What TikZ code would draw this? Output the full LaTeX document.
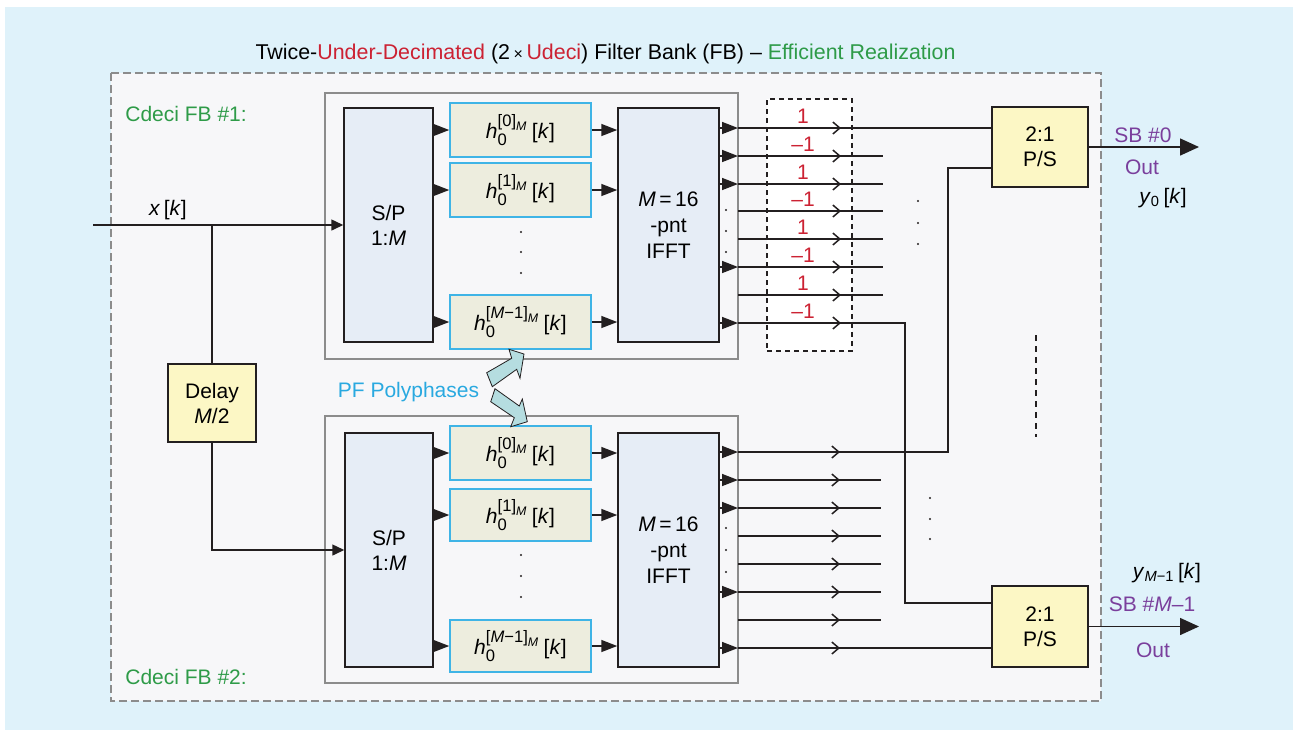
\documentclass[tikz,border=0pt]{standalone}
\usepackage{fontspec}
\setmainfont{Liberation Sans}
\usetikzlibrary{arrows.meta,fit}
\definecolor{bgblue}{HTML}{DFF2FA}
\definecolor{panel}{HTML}{F7F7F9}
\definecolor{spfill}{HTML}{E6EDF6}
\definecolor{hfill}{HTML}{EDEDDE}
\definecolor{hborder}{HTML}{3FB4E6}
\definecolor{psfill}{HTML}{FCF7C5}
\definecolor{myred}{HTML}{CC2233}
\definecolor{mygreen}{HTML}{2E9B48}
\definecolor{mypurple}{HTML}{7A3F9C}
\definecolor{mycyan}{HTML}{29A9E0}
\definecolor{fatarrow}{HTML}{B5DDE0}
\definecolor{lineblk}{HTML}{231F20}
\definecolor{fbgray}{HTML}{8C8C8C}
\newcommand{\hpoly}[1]{\textit{h}$^{\mbox{\fontsize{8.3}{9}\selectfont[#1]}_{\mbox{\fontsize{6.2}{7}\selectfont\itshape M}}}_{\mbox{\fontsize{8.3}{9}\selectfont 0}}$\,[\textit{k}]}
\tikzset{
  BTip/.tip={Triangle[length=8pt,width=6pt]},
  ITip/.tip={Triangle[length=6pt,width=5.5pt]},
  OTip/.tip={Triangle[length=9.5pt,width=8.5pt]},
  Barb/.tip={Straight Barb[length=3.5pt,width=6pt]},
  wire/.style={draw=lineblk, line width=0.75pt},
  fbouter/.style={draw=fbgray, line width=0.75pt, fill=panel, inner sep=0pt},
  dkbox/.style={draw=lineblk, line width=0.75pt, inner sep=0pt, align=center,
    font=\fontsize{10.5}{12.5}\selectfont},
  hbox/.style={draw=hborder, line width=0.75pt, fill=hfill, inner sep=0pt,
    font=\fontsize{10.5}{12.5}\selectfont},
  redlab/.style={text=myred, font=\fontsize{10.5}{12}\selectfont},
  txt/.style={font=\fontsize{10.5}{12.5}\selectfont, inner sep=0pt}
}
\begin{document}
\begin{tikzpicture}[x=0.5pt,y=-0.5pt]
\fill[white] (0,0) rectangle (1297,730);
\useasboundingbox (0,0) rectangle (1297,730);
\fill[bgblue] (5,7) rectangle (1293,730);
\draw[fbgray, fill=panel, line width=0.6pt, dash pattern=on 4pt off 2pt] (111,73) rectangle (1101,701);

% title
\node[txt, font=\fontsize{10.7}{12.5}\selectfont] (title) at (605.5,54) {Twice-\textcolor{myred}{Under-Decimated} (2\,{\fontsize{8}{9}\selectfont ×}\,\textcolor{myred}{Udeci}) Filter Bank (FB) – \textcolor{mygreen}{Efficient Realization}};
\node[txt, text=mygreen, anchor=west] (cd1) at (125,114) {Cdeci FB \#1:};
\node[txt, text=mygreen, anchor=west] (cd2) at (125,677) {Cdeci FB \#2:};

% filter bank frames
\node[fbouter, fit={(325,93)(738,359)}] (fb1) {};
\node[fbouter, fit={(325,416)(738,683)}] (fb2) {};

% bank 1
\node[dkbox, fill=spfill, fit={(344,108)(433,342)}] (sp1) {};
\node[txt, align=center, font=\fontsize{10.5}{12.5}\selectfont] at (sp1.center) {S/P\\1:\textit{M}};
\node[hbox, fit={(450,103)(591,157)}] (f10) {};
\node[txt] at (f10.center) {\hpoly{0}};
\node[hbox, fit={(450,163)(591,217)}] (f11) {};
\node[txt] at (f11.center) {\hpoly{1}};
\node[hbox, fit={(450,295)(591,349)}] (f1M) {};
\node[txt] at (f1M.center) {\hpoly{\textit{M}−1}};
\node[dkbox, fill=spfill, fit={(618,108)(719,342)}] (if1) {};
\node[txt, align=center, font=\fontsize{10.5}{13}\selectfont] at (if1.center) {\textit{M}\,=\,16\\-pnt\\IFFT};

% bank 2
\node[dkbox, fill=spfill, fit={(345,433)(433,667)}] (sp2) {};
\node[txt, align=center, font=\fontsize{10.5}{12.5}\selectfont] at (sp2.center) {S/P\\1:\textit{M}};
\node[hbox, fit={(450,426)(591,480)}] (f20) {};
\node[txt] at (f20.center) {\hpoly{0}};
\node[hbox, fit={(450,489)(591,541)}] (f21) {};
\node[txt] at (f21.center) {\hpoly{1}};
\node[hbox, fit={(450,620)(591,672)}] (f2M) {};
\node[txt] at (f2M.center) {\hpoly{\textit{M}−1}};
\node[dkbox, fill=spfill, fit={(618,433)(719,667)}] (if2) {};
\node[txt, align=center, font=\fontsize{10.5}{13}\selectfont] at (if2.center) {\textit{M}\,=\,16\\-pnt\\IFFT};

% delay and P/S
\node[dkbox, fill=psfill, fit={(168,364)(256,442)}] (delay) {};
\node[txt, align=center, font=\fontsize{10.5}{12.5}\selectfont] at (delay.center) {Delay\\\textit{M}/2};
\node[dkbox, fill=psfill, fit={(992,107)(1088,187)}] (ps1) {};
\node[txt, align=center, font=\fontsize{10.5}{12.5}\selectfont] at (ps1.center) {2:1\\P/S};
\node[dkbox, fill=psfill, fit={(992,586)(1088,667)}] (ps2) {};
\node[txt, align=center, font=\fontsize{10.5}{12.5}\selectfont] at (ps2.center) {2:1\\P/S};

% dotted multiplier box
\node[draw=lineblk, line width=0.7pt, dash pattern=on 2.5pt off 2pt, inner sep=0pt, fill=white, fit={(767,99)(852,351)}] (mult) {};

% input
\coordinate (xin) at (93,225);
\coordinate (br) at (212,225);
\draw[wire, -ITip] (xin) -- (sp1.west);
\draw[wire] (br) -- (delay.north);
\draw[wire, -ITip] (delay.south) |- (sp2.west);
\node[txt] (xk) at (168,210) {\textit{x}\,[\textit{k}]};

% S/P -> filters -> IFFT
\foreach \f in {f10,f11,f1M}{
  \draw[wire, -BTip] (sp1.east |- \f.west) -- (\f.west);
  \draw[wire, -BTip] (\f.east) -- (if1.west |- \f.east);
}
\foreach \f in {f20,f21,f2M}{
  \draw[wire, -BTip] (sp2.east |- \f.west) -- (\f.west);
  \draw[wire, -BTip] (\f.east) -- (if2.west |- \f.east);
}

% top outputs
\foreach \i/\y in {0/128,1/156,2/184,3/211,4/239,5/267,6/295,7/323}{
  \coordinate (ta\i) at (719,\y);
  \coordinate (tb\i) at (738,\y);
  \coordinate (te\i) at (883,\y);
  \coordinate (tm\i) at (841,\y);
}
\foreach \i in {0,1,2,5,7}{ \draw[wire, -BTip] (ta\i) -- (tb\i); }
\draw[wire] (tb0) -- (ps1.west |- tb0);
\foreach \i in {1,...,6}{ \draw[wire] (tb\i) -- (te\i); }
\coordinate (k1) at (905,323);
\coordinate (ps2a) at (992,603);
\draw[wire] (tb7) -- (k1) |- (ps2a);
\foreach \i in {0,...,7}{ \draw[wire, -Barb] ([xshift=-10]tm\i) -- (tm\i); }
\foreach \y/\t in {128/1,156/–1,184/1,211/–1,239/1,267/–1,295/1,323/–1}{
  \node[redlab] at (803,\y-12) {\t};
}

% bottom outputs
\foreach \i/\y in {0/452,1/480,2/508,3/536,4/564,5/592,6/620,7/648}{
  \coordinate (ba\i) at (719,\y);
  \coordinate (bb\i) at (738,\y);
  \coordinate (be\i) at (881,\y);
  \coordinate (bm\i) at (840,\y);
}
\foreach \i in {0,1,2,5,7}{ \draw[wire, -BTip] (ba\i) -- (bb\i); }
\foreach \i in {1,...,6}{ \draw[wire] (bb\i) -- (be\i); }
\coordinate (k2) at (948,452);
\coordinate (ps1b) at (992,168);
\draw[wire] (bb0) -- (k2) |- (ps1b);
\draw[wire] (bb7) -- (ps2.west |- bb7);
\foreach \i in {0,...,7}{ \draw[wire, -Barb] ([xshift=-10]bm\i) -- (bm\i); }

% outputs of P/S
\coordinate (out1) at (1199,147);
\coordinate (out2) at (1199,626.5);
\draw[wire, -OTip] (ps1.east) -- (out1);
\draw[wire, -OTip] (ps2.east) -- (out2);
\node[txt, text=mypurple] at (1143,135) {SB \#0};
\node[txt, text=mypurple] at (1142,167) {Out};
\node[txt] at (1163,198) {\textit{y}\textsubscript{0}\,[\textit{k}]};
\node[txt] at (1167,573) {\textit{y}\textsubscript{\textit{M}−1}\,[\textit{k}]};
\node[txt, text=mypurple] at (1152,604) {SB \#\textit{M}–1};
\node[txt, text=mypurple] at (1153,650) {Out};

% dots
\foreach \x/\y in {521/232,521/252,521/273,521/555,521/576,521/597,
  726/210,726/231,726/252,726/528,726/550,726/572,
  918/201,918/223,918/244,930/498,930/519,930/539}{
  \fill[lineblk] (\x,\y) circle (0.6pt);
}
\draw[lineblk, line width=1pt, dash pattern=on 3pt off 2.5pt] (1036,335) -- (1036,437);

% PF polyphases fat arrows
\node[txt, text=mycyan] (pf) at (408.5,392) {PF Polyphases};
\draw[fill=fatarrow, draw=lineblk, line width=0.4pt, line join=miter]
  (486.7,372.7) -- (511.7,358.3) -- (509,349.3) -- (524,354) -- (520,378.3) -- (516.7,369.3) -- (492.3,386.7) -- cycle;
\draw[fill=fatarrow, draw=lineblk, line width=0.4pt, line join=miter]
  (495,388.7) -- (519.3,406) -- (522.3,399) -- (527.3,421.7) -- (510.7,426.7) -- (514.3,417.7) -- (490.7,401.7) -- cycle;
\end{tikzpicture}
\end{document}
